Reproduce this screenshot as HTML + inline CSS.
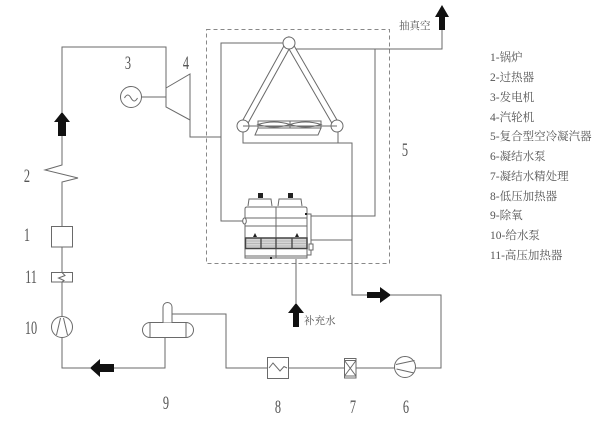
<!DOCTYPE html>
<html><head><meta charset="utf-8"><style>
html,body{margin:0;padding:0;background:#fff;}
svg{display:block;}
.n{font-family:"Liberation Serif",serif;font-size:19px;fill:#555;}
.lg{font-family:"Liberation Serif","Noto Serif CJK SC",serif;font-size:11.5px;fill:#555;}
.cn{font-family:"Liberation Serif","Noto Serif CJK SC",serif;font-size:10.5px;fill:#555;}
</style></head><body>
<svg width="600" height="424" viewBox="0 0 600 424" xmlns="http://www.w3.org/2000/svg">
<rect width="600" height="424" fill="#fff"/>
<g fill="none" stroke="#6a6a6a" stroke-width="1">
<rect x="206.5" y="29.5" width="183" height="234" stroke="#888" stroke-dasharray="4 3"/>
<path d="M62,136 V165 L45,170 L78,178 L62,182 V226"/>
<path d="M62,112 V47 H166 V107"/>
<rect x="51.5" y="226.5" width="21" height="20.5"/>
<path d="M62,247 V272.5"/>
<rect x="51.5" y="272.5" width="21" height="9.5"/>
<path d="M62,272.5 L65,275.5 L58.5,278 L64,280.5 L62,282"/>
<path d="M62,282 V316.5"/>
<circle cx="62" cy="327" r="10.5"/>
<path d="M56.5,335 L60.5,318 M67.5,335 L63.5,318"/>
<path d="M62,337.5 V368 H90"/>
<path d="M114,368 H165 V337"/>
<polygon points="166,88 190,74 190,120 166,107"/>
<circle cx="131" cy="97" r="10.5"/>
<path d="M124.5,98 q3.25,-6 6.5,0 t6.5,0"/>
<path d="M141.5,97 H166"/>
<path d="M190,120 V137 H221"/>
<path d="M245,221 H221 V43 H283"/>
<path d="M295,49 H442 V30"/>
<path d="M375,49 V216 H311"/>
<path d="M243,132 V143 H352 V295 H367"/>
<path d="M338,132 V143"/>
<path d="M391,295 H441 V368 H226 V314 H172"/>
<path d="M311,240 H352"/>
<path d="M296,259 V303"/>
<g stroke="#6a6a6a" stroke-width="7"><path d="M243,126 L289,43 L337,126"/></g>
<g stroke="#fff" stroke-width="5"><path d="M243,126 L289,43 L337,126"/></g>
<path d="M243,126 H337"/>
<circle cx="289" cy="43" r="6" fill="#fff"/>
<circle cx="243" cy="126" r="6" fill="#fff"/>
<circle cx="337" cy="126" r="6" fill="#fff"/>
<path d="M243,126 H337"/>
<rect x="258" y="121" width="63" height="7"/>
<polygon points="258,128 321,128 318,135 255,135"/>
<path d="M258,124.5 Q274,119.5 290,124.5 Q274,129.5 258,124.5 Z M290,124.5 Q305.5,119.5 321,124.5 Q305.5,129.5 290,124.5 Z M290,121 V128"/>
<rect x="142.5" y="322.5" width="51" height="15" rx="7.5"/>
<path d="M150,322.5 V337.5 M186,322.5 V337.5"/>
<path d="M163,322.5 V307 A4.5,4.5 0 0 1 172,307 V322.5" fill="#fff"/>
<rect x="267.5" y="357.5" width="21" height="21" fill="#fff"/>
<path d="M269,368 L273,363 L280,371 L284,366.5 L287,368"/>
<rect x="344.5" y="358.5" width="11.5" height="19.5" fill="#fff"/>
<path d="M344.5,360.5 H356 M344.5,376 H356 M344.5,360.5 L356,376 M356,360.5 L344.5,376"/>
<circle cx="405" cy="367" r="10.5" fill="#fff"/>
<path d="M396,364.5 L414.5,360.5 M396.5,369 L414,373"/>
<path d="M248,206 L249,199 H271 L272,206 M278,206 L279,199 H301 L302,206"/>
<path d="M245,258 V209 Q245,207 247,207 H305 Q307,207 307,209 V258 Z" fill="#fff"/>
<path d="M276,207 V258"/>
<path d="M245,218 H307 M245,226 H307 M245,256 H307"/>
<rect x="245.5" y="238" width="61.5" height="10.5" fill="#d6d6d6" stroke="#444" stroke-width="1.5"/>
<path d="M246,241 H306 M246,243.5 H306 M246,246 H306" stroke="#999" stroke-width="0.6"/>
<path d="M261,238 V248.5 M276,238 V248.5 M292,238 V248.5" stroke="#444" stroke-width="1.3"/>
<path d="M307,214 H311 V255 H307"/>
<ellipse cx="244.5" cy="221" rx="1.8" ry="3" fill="#fff"/>
<rect x="309" y="244" width="4" height="6" fill="#fff"/>
</g>
<g fill="#222">
<rect x="258" y="193" width="5" height="5"/>
<rect x="288" y="193" width="5" height="5"/>
<polygon points="253,237 255,233 257,237"/>
<polygon points="295,237 297,233 299,237"/>
<rect x="305" y="213" width="2" height="2"/>
<rect x="270" y="257" width="2" height="2"/>
</g>
<g fill="#111">
<polygon points="62,112 70,122 66,122 66,136 58,136 58,122 54,122"/>
<polygon points="442,5 449,17 445,17 445,30 439,30 439,17 435,17"/>
<polygon points="391,295 380,287 380,292 367,292 367,298 380,298 380,303"/>
<polygon points="296,303 304,313 299,313 299,327 293,327 293,313 288,313"/>
<polygon points="90,368 100,359 100,364 114,364 114,372 100,372 100,377"/>
</g>
<g class="n" text-anchor="middle">
<text transform="translate(128,69) scale(0.65,1)">3</text>
<text transform="translate(186,69) scale(0.65,1)">4</text>
<text transform="translate(27,182) scale(0.65,1)">2</text>
<text transform="translate(27,241) scale(0.65,1)">1</text>
<text transform="translate(31,283) scale(0.65,1)">11</text>
<text transform="translate(31,334) scale(0.65,1)">10</text>
<text transform="translate(166,409) scale(0.65,1)">9</text>
<text transform="translate(278,413) scale(0.65,1)">8</text>
<text transform="translate(353,413) scale(0.65,1)">7</text>
<text transform="translate(406,413) scale(0.65,1)">6</text>
<text transform="translate(405,156) scale(0.65,1)">5</text>
</g>
<text class="cn" x="399" y="29">抽真空</text>
<text class="cn" x="304" y="324">补充水</text>
<g class="lg">
<text x="490" y="61">1-锅炉</text>
<text x="490" y="81">2-过热器</text>
<text x="490" y="101">3-发电机</text>
<text x="490" y="121">4-汽轮机</text>
<text x="490" y="140">5-复合型空冷凝汽器</text>
<text x="490" y="160">6-凝结水泵</text>
<text x="490" y="180">7-凝结水精处理</text>
<text x="490" y="200">8-低压加热器</text>
<text x="490" y="219">9-除氧</text>
<text x="490" y="239">10-给水泵</text>
<text x="490" y="259">11-高压加热器</text>
</g>
</svg>
</body></html>
